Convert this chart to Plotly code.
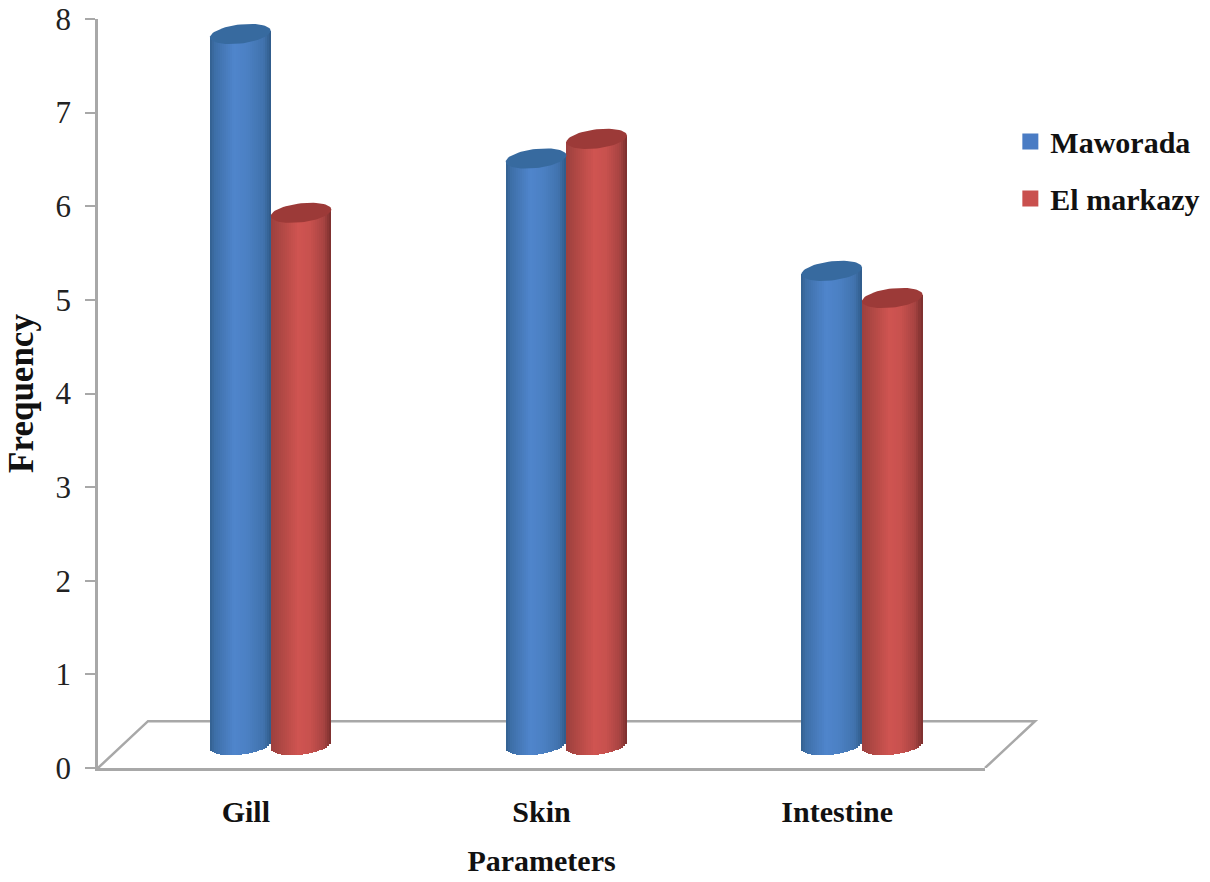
import math
import plotly.graph_objects as go

# ---- data (against the front value axis) ----
categories = ["Gill", "Skin", "Intestine"]
mawarada = [7.84, 6.51, 5.31]
el_markazy = [5.93, 6.72, 5.02]
y_ticks = [0, 1, 2, 3, 4, 5, 6, 7, 8]

# ---- styling / pseudo-3D constants ----
FONT = "Liberation Serif"
AXIS_GREY = "#a8a8a8"
FLOOR_BASE = 0.245      # where the cylinder feet stand (axis units)
FLOOR_DEPTH_Y = 0.50    # height of the back edge of the floor
FLOOR_DEPTH_X = 50 / 887  # horizontal shear of the floor, share of the plot width
SHIFT = 0.084           # bars stand mid-floor, to the right of the tick
CYL_W = 0.205
ELL_B = 0.102
ELL_TILT = 0.035
N = 30

BLUE = [(-1, "#33608f"), (-0.85, "#3d6ea6"), (-0.2, "#4f85cc"), (0.25, "#4b80c3"), (0.75, "#4173ae"), (1, "#2f5a88")]
RED = [(-1, "#9c403e"), (-0.5, "#b84b47"), (-0.1, "#cf5451"), (0.3, "#c8514e"), (0.75, "#a84442"), (1, "#7a2e2d")]


def shade(stops, u):
    for (u0, c0), (u1, c1) in zip(stops, stops[1:]):
        if u <= u1:
            t = (u - u0) / (u1 - u0)
            rgb = [round(int(c0[i:i + 2], 16) * (1 - t) + int(c1[i:i + 2], 16) * t) for i in (1, 3, 5)]
            return "rgb(%d,%d,%d)" % tuple(rgb)
    return stops[-1][1]


fig = go.Figure()


def cylinder(values, name, stops, cap, swatch, side):
    centers = [i + side * CYL_W / 2 + SHIFT for i in range(len(values))]
    for k in range(N):
        u = -1 + (k + 0.5) * 2 / N
        foot = [FLOOR_BASE - ELL_B * math.sqrt(max(0, 1 - u * u)) + ELL_TILT * u for _ in values]
        top = [v + ELL_TILT * u for v in values]
        fig.add_bar(
            x=[c + u * CYL_W / 2 for c in centers],
            y=[t - f for t, f in zip(top, foot)],
            base=foot,
            width=CYL_W / N * 1.08,
            marker=dict(color=shade(stops, u), line=dict(width=0)),
            showlegend=False,
            hoverinfo="skip",
        )
    for c, v in zip(centers, values):
        ts = [2 * math.pi * j / 60 for j in range(61)]
        fig.add_scatter(
            x=[c + CYL_W / 2 * math.cos(t) for t in ts],
            y=[v + ELL_B * math.sin(t) + ELL_TILT * math.cos(t) for t in ts],
            mode="lines",
            fill="toself",
            fillcolor=cap,
            line=dict(width=0, color=cap),
            showlegend=False,
            hoverinfo="skip",
        )
    fig.add_scatter(
        x=[None], y=[None], mode="markers", name=name, legendgroup=name,
        marker=dict(symbol="square", size=16, color=swatch),
    )


cylinder(mawarada, "Maworada", BLUE, "#376a9f", "#4a7cc4", -1)
cylinder(el_markazy, "El markazy", RED, "#9c3a38", "#c9504e", 1)

fig.update_layout(
    width=1210,
    height=882,
    margin=dict(l=98, r=225, t=19, b=114, autoexpand=False),
    paper_bgcolor="white",
    plot_bgcolor="white",
    barmode="overlay",
    bargap=0,
    font=dict(family=FONT, size=30, color="#111111"),
    legend=dict(
        xref="container", yref="container",
        x=0.835, y=0.869, xanchor="left", yanchor="top",
        font=dict(family=FONT, size=30, weight="bold", color="#111111"),
        tracegroupgap=15, itemwidth=30, bgcolor="rgba(0,0,0,0)",
    ),
    xaxis=dict(
        range=[-0.5, 2.5],
        tickvals=[0, 1, 2],
        ticktext=categories,
        ticks="",
        showgrid=False,
        zeroline=False,
        showline=True,
        linecolor=AXIS_GREY,
        linewidth=3,
        automargin=True,
        tickfont=dict(family=FONT, size=30, weight="bold", color="#111111"),
        ticklabelstandoff=15,
        title=dict(
            text="Parameters", standoff=23,
            font=dict(family=FONT, size=30, weight="bold", color="#111111"),
        ),
    ),
    yaxis=dict(
        range=[0, 8],
        tickvals=y_ticks,
        ticks="outside",
        ticklen=10,
        tickwidth=2,
        tickcolor=AXIS_GREY,
        showgrid=False,
        zeroline=False,
        showline=True,
        linecolor=AXIS_GREY,
        linewidth=2.5,
        automargin=True,
        tickfont=dict(family=FONT, size=31, color="#222222"),
        ticklabelstandoff=8,
        title=dict(
            text="Frequency", standoff=12,
            font=dict(family=FONT, size=35, weight="bold", color="#111111"),
        ),
    ),
    shapes=[
        dict(
            type="path",
            xref="paper",
            yref="y",
            layer="below",
            path=f"M 0,0 L {FLOOR_DEPTH_X},{FLOOR_DEPTH_Y} L {1 + FLOOR_DEPTH_X},{FLOOR_DEPTH_Y} L 1,0",
            line=dict(color=AXIS_GREY, width=2.5),
        )
    ],
)

fig.write_html(
    "out.html",
    config={"displayModeBar": False},
    post_script="document.body.style.margin='0';document.body.style.overflow='hidden';",
)
